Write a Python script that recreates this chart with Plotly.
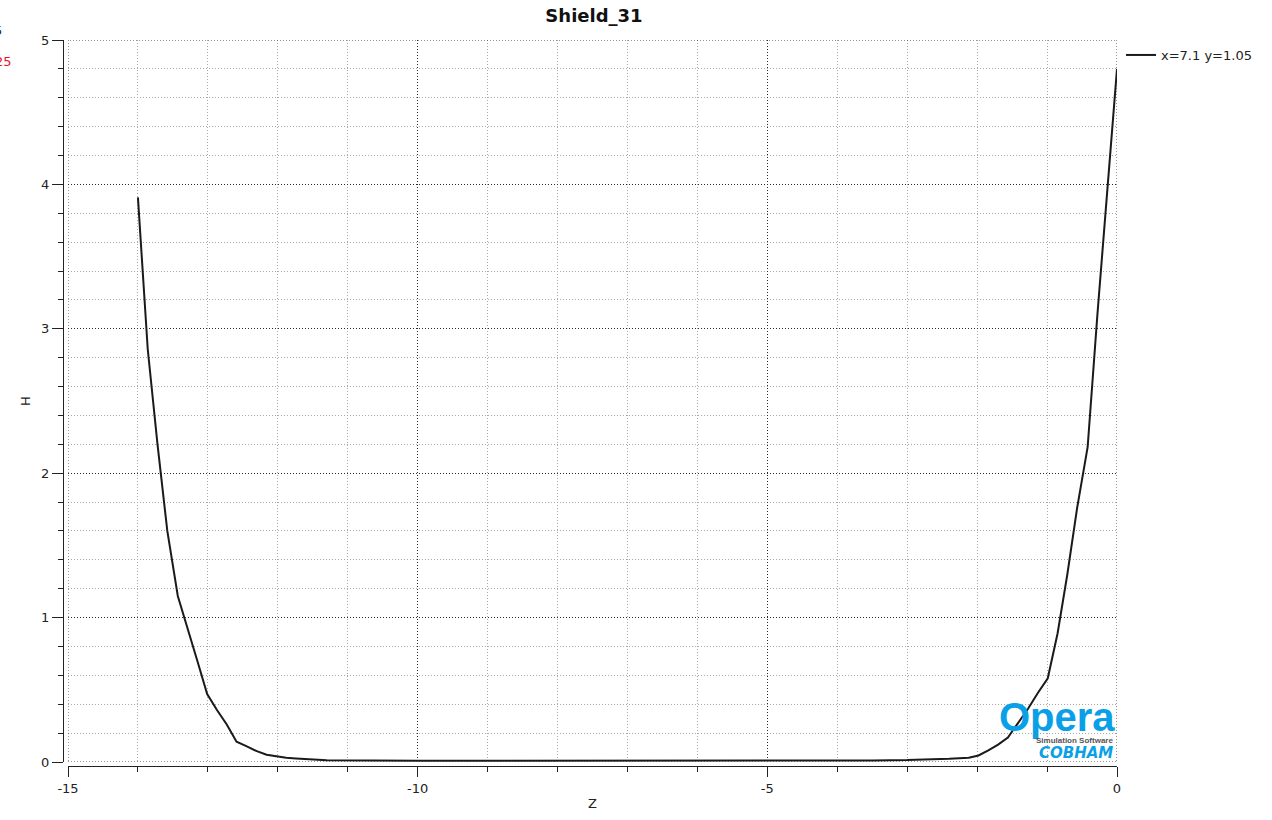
import plotly.graph_objects as go

# ---- data ----
z_left = [-14.0, -13.86, -13.72, -13.58, -13.43, -13.29, -13.15, -13.01, -12.87, -12.73,
          -12.59, -12.45, -12.30, -12.16, -12.02, -11.88, -11.74, -11.60, -11.46, -11.30]
h_left = [3.91, 2.86, 2.20, 1.60, 1.15, 0.93, 0.70, 0.47, 0.36, 0.26,
          0.14, 0.11, 0.075, 0.05, 0.038, 0.03, 0.025, 0.02, 0.015, 0.012]
z_mid = [-10.0, -8.0, -6.0, -4.0, -3.5]
h_mid = [0.009, 0.008, 0.008, 0.010, 0.011]
z_right = [-3.0, -2.7, -2.4, -2.12, -1.98, -1.84, -1.70, -1.56, -1.41, -1.27,
           -1.13, -0.99, -0.85, -0.71, -0.57, -0.42, -0.28, -0.14, 0.0]
h_right = [0.013, 0.017, 0.022, 0.03, 0.045, 0.08, 0.12, 0.17, 0.27, 0.37,
           0.48, 0.58, 0.89, 1.30, 1.76, 2.18, 3.10, 3.97, 4.80]

x_tickvals = [-15, -10, -5, 0]
x_ticktext = ["-15", "-10", "-5", "0"]
y_tickvals = [0, 1, 2, 3, 4, 5]
y_ticktext = ["0", "1", "2", "3", "4", "5"]

series_name = "x=7.1 y=1.05"
chart_title = "Shield_31"
x_label = "Z"
y_label = "H"
x_range = [-15, 0]
y_range = [0, 5]

z_all = z_left + z_mid + z_right
h_all = h_left + h_mid + h_right

W, H = 1272, 820
ML, MR, MT, MB = 60, 155, 40, 54
pw = W - ML - MR
ph = H - MT - MB

def px_x(p):
    return (p - ML) / pw

def px_y(p):
    return (H - MB - p) / ph

FONT = "DejaVu Sans"
major_grid = "#2a2a2a"
minor_grid = "#a8a8a8"
DOT = "1px,2px"

fig = go.Figure()
fig.add_trace(go.Scatter(
    x=z_all, y=h_all, mode="lines", name=series_name,
    line=dict(color="#1a1a1a", width=2),
))

fig.update_layout(
    width=W, height=H,
    margin=dict(l=ML, r=MR, t=MT, b=MB),
    paper_bgcolor="white", plot_bgcolor="white",
    font=dict(family=FONT, size=13, color="#222"),
    title=dict(text="<b>" + chart_title + "</b>", x=px_x(594), xref="paper", xanchor="center",
               y=1 - 16 / H, yref="container", yanchor="middle",
               font=dict(family=FONT, size=18, color="#111")),
    showlegend=True,
    legend=dict(x=px_x(1121), y=1.0, xanchor="left", yanchor="top",
                font=dict(size=13, color="#222"), bgcolor="rgba(0,0,0,0)",
                itemwidth=30, tracegroupgap=0),
    xaxis=dict(
        range=x_range, domain=[px_x(68), 1.0],
        anchor="free", position=px_y(766),
        showline=True, linecolor="#222", linewidth=1,
        ticks="outside", ticklen=10, tickcolor="#222", tickwidth=1,
        tickmode="array", tickvals=x_tickvals, ticktext=x_ticktext,
        showgrid=True, gridcolor=major_grid, griddash=DOT, gridwidth=1,
        zeroline=False,
        minor=dict(dtick=1, tick0=0, ticks="outside", ticklen=5, tickcolor="#222",
                   showgrid=True, gridcolor=minor_grid, griddash=DOT, gridwidth=1),
        title=dict(text=x_label, standoff=4, font=dict(size=13, color="#222")),
        automargin=False,
    ),
    yaxis=dict(
        range=y_range, domain=[px_y(762), 1.0],
        anchor="free", position=px_x(63),
        showline=True, linecolor="#222", linewidth=1,
        ticks="outside", ticklen=11, tickcolor="#222", tickwidth=1,
        tickmode="array", tickvals=y_tickvals, ticktext=y_ticktext,
        showgrid=True, gridcolor=major_grid, griddash=DOT, gridwidth=1,
        zeroline=False,
        minor=dict(dtick=0.2, tick0=0, ticks="outside", ticklen=5, tickcolor="#222",
                   showgrid=True, gridcolor=minor_grid, griddash=DOT, gridwidth=1),
        title=dict(text=y_label, standoff=6, font=dict(size=13, color="#222")),
        automargin=False,
    ),
)

# dotted frame of the plotting area
fig.add_shape(type="rect", xref="x", yref="y", x0=x_range[0], x1=x_range[1],
              y0=y_range[0], y1=y_range[1],
              line=dict(color=major_grid, width=1, dash=DOT), layer="above")

# cut-off texts at top-left edge (partly outside the window, as in the reference)
fig.add_annotation(text="5", xref="paper", yref="paper", x=px_x(4), y=px_y(31),
                   xanchor="right", yanchor="middle", showarrow=False,
                   font=dict(family=FONT, size=13, color="#222"))
fig.add_annotation(text="25", xref="paper", yref="paper", x=px_x(14), y=px_y(62),
                   xanchor="right", yanchor="middle", showarrow=False,
                   font=dict(family=FONT, size=13, color="#e8141e"))

# Opera logo
logo_blue = "#0aa0e8"
fig.add_annotation(text="<b>Opera</b>", xref="paper", yref="paper",
                   x=px_x(1117), y=px_y(717), xanchor="right", yanchor="middle",
                   showarrow=False,
                   font=dict(family="Liberation Sans", size=40, color=logo_blue))
fig.add_annotation(text="<b>Simulation Software</b>", xref="paper", yref="paper",
                   x=px_x(1115), y=px_y(740), xanchor="right", yanchor="middle",
                   showarrow=False,
                   font=dict(family="Liberation Sans", size=8, color="#555"))
fig.add_annotation(text="<b><i>COBHAM</i></b>", xref="paper", yref="paper",
                   x=px_x(1115), y=px_y(753), xanchor="right", yanchor="middle",
                   showarrow=False,
                   font=dict(family="DejaVu Sans", size=15, color=logo_blue))

fig.write_html("out.html")
